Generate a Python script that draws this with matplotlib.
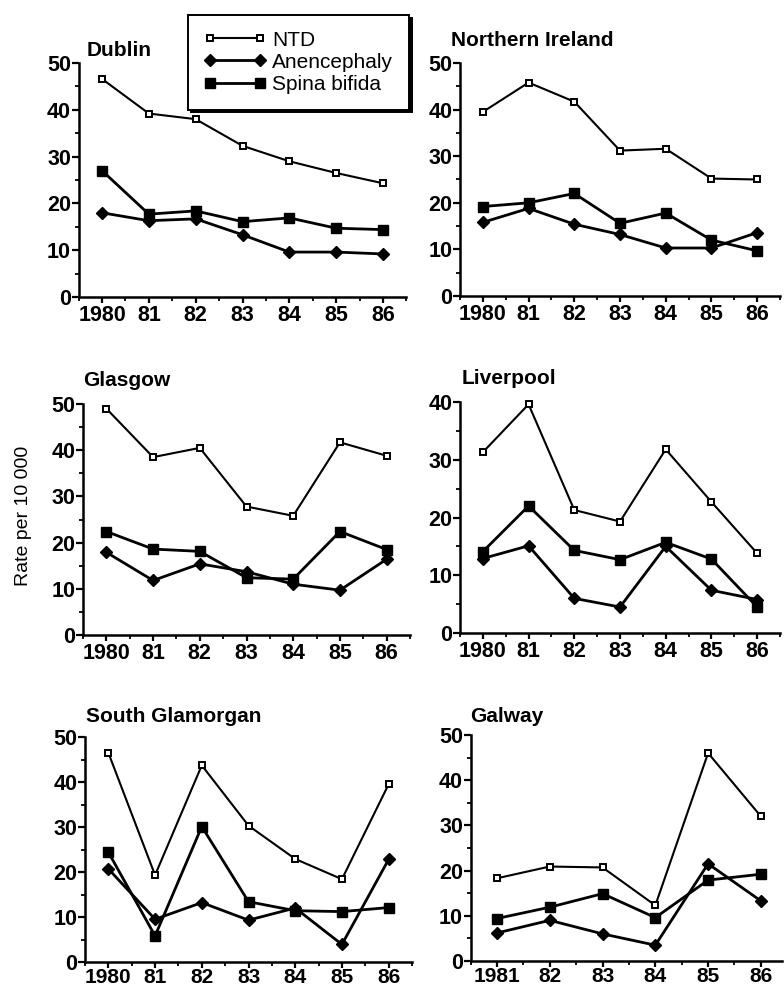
import matplotlib
matplotlib.use("Agg")
import matplotlib.pyplot as plt
from matplotlib.ticker import MultipleLocator

plt.rcParams['font.family'] = ['Liberation Sans', 'DejaVu Sans']

years = [1980, 1981, 1982, 1983, 1984, 1985, 1986]
year_labels = ["1980", "81", "82", "83", "84", "85", "86"]
galway_years = [1981, 1982, 1983, 1984, 1985, 1986]
galway_labels = ["1981", "82", "83", "84", "85", "86"]

dublin_ntd = [46.6, 39.2, 38.0, 32.3, 29.0, 26.5, 24.3]
dublin_anen = [18.0, 16.3, 16.7, 13.3, 9.6, 9.6, 9.2]
dublin_sb = [27.0, 17.7, 18.4, 16.1, 16.9, 14.7, 14.4]

ni_ntd = [39.5, 45.8, 41.7, 31.2, 31.6, 25.2, 25.0]
ni_anen = [15.8, 18.8, 15.4, 13.2, 10.3, 10.3, 13.6]
ni_sb = [19.2, 20.0, 22.0, 15.6, 17.8, 12.0, 9.7]

glasgow_ntd = [49.0, 38.5, 40.5, 27.8, 25.8, 41.7, 38.8]
glasgow_anen = [17.9, 11.8, 15.4, 13.7, 11.0, 9.7, 16.4]
glasgow_sb = [22.4, 18.6, 18.1, 12.4, 12.1, 22.4, 18.5]

liverpool_ntd = [31.3, 39.6, 21.3, 19.3, 31.8, 22.7, 13.8]
liverpool_anen = [12.9, 15.1, 6.0, 4.5, 15.0, 7.4, 5.8]
liverpool_sb = [14.1, 22.0, 14.3, 12.7, 15.7, 12.8, 4.5]

sglam_ntd = [46.5, 19.3, 43.7, 30.3, 22.9, 18.4, 39.5]
sglam_anen = [20.7, 9.5, 13.2, 9.3, 12.0, 3.9, 22.8]
sglam_sb = [24.4, 5.8, 30.1, 13.4, 11.4, 11.2, 12.1]

galway_ntd = [18.3, 20.9, 20.7, 12.3, 46.0, 32.0]
galway_anen = [6.2, 9.0, 6.0, 3.5, 21.5, 13.3]
galway_sb = [9.4, 11.9, 14.9, 9.6, 17.9, 19.2]

W, H = 784, 990
fig = plt.figure(figsize=(W / 100, H / 100), dpi=100)


def px_axes(left, right, top, bottom):
    return fig.add_axes([left / W, 1 - bottom / H, (right - left) / W, (bottom - top) / H])


# (name, x, labels, ntd, anen, sb, box px, xlim, ymax, title pos)
panels = [
    ("Dublin", years, year_labels, dublin_ntd, dublin_anen, dublin_sb,
     (78.6, 406.4, 63, 297), (1979.5, 1986.5), 50, (87, 50)),
    ("Northern Ireland", years, year_labels, ni_ntd, ni_anen, ni_sb,
     (460, 780, 63, 296), (1979.5, 1986.5), 50, (451, 40)),
    ("Glasgow", years, year_labels, glasgow_ntd, glasgow_anen, glasgow_sb,
     (83, 410, 404, 635), (1979.5, 1986.5), 50, (83, 380)),
    ("Liverpool", years, year_labels, liverpool_ntd, liverpool_anen, liverpool_sb,
     (460, 780, 402, 633), (1979.5, 1986.5), 40, (462, 378)),
    ("South Glamorgan", years, year_labels, sglam_ntd, sglam_anen, sglam_sb,
     (85, 412, 737, 962), (1979.5, 1986.5), 50, (86, 717)),
    ("Galway", galway_years, galway_labels, galway_ntd, galway_anen, galway_sb,
     (470.6, 782, 735, 961), (1980.5, 1986.4), 50, (470, 717)),
]

handles = None
for i, (name, x, labels, ntd, anen, sb, box, xlim, ymax, tpos) in enumerate(panels):
    ax = px_axes(*box)
    h1, = ax.plot(x, ntd, color="black", lw=1.5, marker="s", ms=5,
                  mfc="white", mec="black", mew=1.4, clip_on=False, zorder=3)
    h2, = ax.plot(x, anen, color="black", lw=2, marker="D", ms=6.5,
                  clip_on=False, zorder=3)
    h3, = ax.plot(x, sb, color="black", lw=2, marker="s", ms=7,
                  clip_on=False, zorder=3)
    if handles is None:
        handles = [h1, h2, h3]
    ax.set_xlim(*xlim)
    ax.set_ylim(0, ymax)
    ax.set_xticks(x)
    ax.set_xticklabels(labels)
    ax.xaxis.set_minor_locator(MultipleLocator(0.5))
    ax.yaxis.set_major_locator(MultipleLocator(10))
    ax.yaxis.set_minor_locator(MultipleLocator(5))
    for s in ["top", "right"]:
        ax.spines[s].set_visible(False)
    for s in ["left", "bottom"]:
        ax.spines[s].set_linewidth(1.8)
    ax.tick_params(which="major", direction="out", length=5, width=1.6,
                   labelsize=15.5)
    ax.tick_params(which="minor", direction="out", length=3, width=1.3)
    ax.tick_params(axis="x", pad=1.5, length=4)
    ax.tick_params(axis="y", pad=0.5)
    if i >= 4:
        ax.tick_params(axis="x", labelsize=15, pad=0.5)
    for lab in ax.get_xticklabels() + ax.get_yticklabels():
        lab.set_fontweight("bold")
    fig.text(tpos[0] / W, 1 - tpos[1] / H, name, fontsize=15, fontweight="bold",
             ha="left", va="center")

fig.text(24 / W, 1 - 516 / H, "Rate per 10 000", rotation=90, fontsize=14,
         ha="center", va="center")

leg = fig.legend(handles, ["NTD", "Anencephaly", "Spina bifida"],
                 loc="upper left", bbox_to_anchor=(188 / W, 1 - 15 / H),
                 borderaxespad=0, numpoints=2, handlelength=3.0, fontsize=15,
                 labelspacing=0.15, handletextpad=0.3, borderpad=0.75,
                 fancybox=False, shadow={"color": "black", "alpha": 1},
                 framealpha=1, edgecolor="black")
leg.get_frame().set_linewidth(1.4)

fig.savefig("out.png", dpi=100)
